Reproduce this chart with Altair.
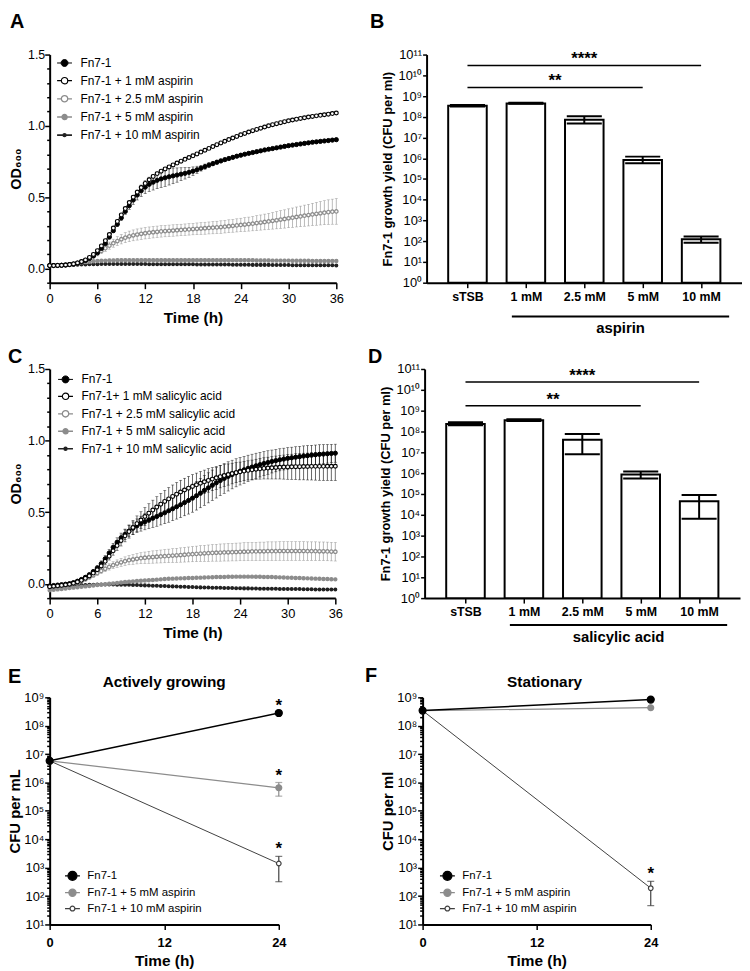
import altair as alt
import pandas as pd

FONT = "Liberation Sans"
SUP = str.maketrans("0123456789", "⁰¹²³⁴⁵⁶⁷⁸⁹")

# ---------------------------------------------------------------- panels A / C
# OD600 readings every 30 min, 0-36 h
TIME_H = [i * 0.5 for i in range(73)]

A_NAMES = ["Fn7-1", "Fn7-1 + 1 mM aspirin", "Fn7-1 + 2.5 mM aspirin",
           "Fn7-1 + 5 mM aspirin", "Fn7-1 + 10 mM aspirin"]
A_FN = [0.020, 0.020, 0.021, 0.022, 0.024, 0.027, 0.031, 0.037, 0.045, 0.056,
        0.070, 0.088, 0.110, 0.140, 0.175, 0.220, 0.265, 0.310, 0.355, 0.400,
        0.440, 0.480, 0.515, 0.545, 0.570, 0.590, 0.605, 0.618, 0.628, 0.636,
        0.643, 0.649, 0.655, 0.661, 0.667, 0.674, 0.682, 0.692, 0.703, 0.714,
        0.725, 0.735, 0.745, 0.754, 0.763, 0.771, 0.779, 0.787, 0.794, 0.801,
        0.807, 0.813, 0.819, 0.825, 0.831, 0.836, 0.841, 0.846, 0.851, 0.856,
        0.861, 0.865, 0.869, 0.873, 0.877, 0.881, 0.885, 0.888, 0.891, 0.894,
        0.897, 0.900, 0.903]
A_FN_SD = [0.003, 0.003, 0.003, 0.003, 0.003, 0.003, 0.003, 0.003, 0.003, 0.003,
           0.004, 0.005, 0.006, 0.008, 0.010, 0.012, 0.014, 0.016, 0.018, 0.020,
           0.025, 0.030, 0.035, 0.040, 0.045, 0.050, 0.055, 0.058, 0.060, 0.060,
           0.058, 0.055, 0.050, 0.045, 0.040, 0.035, 0.030, 0.025, 0.020, 0.018,
           0.016, 0.015, 0.014, 0.013, 0.012, 0.012, 0.012, 0.011, 0.011, 0.010,
           0.010, 0.010, 0.010, 0.010, 0.010, 0.010, 0.010, 0.010, 0.010, 0.010,
           0.010, 0.010, 0.010, 0.010, 0.010, 0.010, 0.010, 0.010, 0.010, 0.010,
           0.010, 0.010, 0.010]
A_1 = [0.020, 0.020, 0.021, 0.022, 0.024, 0.027, 0.032, 0.039, 0.048, 0.060,
       0.077, 0.098, 0.125, 0.158, 0.195, 0.238, 0.283, 0.330, 0.375, 0.420,
       0.462, 0.500, 0.535, 0.567, 0.596, 0.622, 0.645, 0.665, 0.682, 0.698,
       0.712, 0.726, 0.739, 0.752, 0.765, 0.778, 0.790, 0.803, 0.816, 0.829,
       0.842, 0.855, 0.868, 0.880, 0.892, 0.904, 0.915, 0.926, 0.937, 0.947,
       0.957, 0.966, 0.975, 0.984, 0.992, 1.000, 1.008, 1.015, 1.022, 1.029,
       1.035, 1.041, 1.047, 1.052, 1.057, 1.062, 1.066, 1.070, 1.074, 1.078,
       1.082, 1.086, 1.090]
A_25 = [0.020, 0.020, 0.021, 0.022, 0.024, 0.027, 0.031, 0.037, 0.045, 0.056,
        0.070, 0.086, 0.104, 0.123, 0.142, 0.160, 0.177, 0.192, 0.205, 0.216,
        0.225, 0.232, 0.238, 0.243, 0.247, 0.251, 0.254, 0.257, 0.260, 0.262,
        0.264, 0.266, 0.268, 0.270, 0.272, 0.274, 0.276, 0.278, 0.280, 0.282,
        0.284, 0.286, 0.288, 0.290, 0.293, 0.296, 0.299, 0.302, 0.305, 0.308,
        0.311, 0.314, 0.318, 0.322, 0.326, 0.330, 0.334, 0.338, 0.343, 0.347,
        0.352, 0.356, 0.361, 0.365, 0.370, 0.374, 0.379, 0.383, 0.387, 0.391,
        0.395, 0.398, 0.400]
A_25_SD = [0.004, 0.004, 0.004, 0.004, 0.005, 0.005, 0.005, 0.006, 0.007, 0.008,
           0.010, 0.013, 0.016, 0.019, 0.022, 0.025, 0.028, 0.031, 0.033, 0.035,
           0.037, 0.038, 0.039, 0.040, 0.040, 0.040, 0.040, 0.040, 0.040, 0.040,
           0.040, 0.040, 0.040, 0.040, 0.040, 0.040, 0.040, 0.041, 0.041, 0.042,
           0.042, 0.043, 0.043, 0.044, 0.044, 0.045, 0.045, 0.046, 0.047, 0.048,
           0.049, 0.050, 0.052, 0.053, 0.055, 0.056, 0.058, 0.060, 0.062, 0.064,
           0.066, 0.068, 0.070, 0.072, 0.074, 0.076, 0.078, 0.080, 0.082, 0.084,
           0.086, 0.088, 0.090]
A_5 = [0.020, 0.021, 0.022, 0.024, 0.026, 0.029, 0.032, 0.036, 0.040, 0.044,
       0.047, 0.050, 0.052, 0.054, 0.055, 0.056, 0.056, 0.057, 0.057, 0.057,
       0.057, 0.057, 0.058, 0.058, 0.058, 0.058, 0.058, 0.058, 0.058, 0.058,
       0.058, 0.058, 0.058, 0.058, 0.058, 0.058, 0.058, 0.058, 0.058, 0.058,
       0.058, 0.058, 0.058, 0.058, 0.058, 0.058, 0.058, 0.057, 0.057, 0.057,
       0.057, 0.057, 0.056, 0.056, 0.056, 0.056, 0.055, 0.055, 0.055, 0.055,
       0.055, 0.054, 0.054, 0.054, 0.054, 0.054, 0.053, 0.053, 0.053, 0.053,
       0.053, 0.053, 0.053]
A_5_SD = [0.003, 0.003, 0.003, 0.004, 0.004, 0.005, 0.005, 0.006, 0.006, 0.007,
          0.007, 0.008, 0.008, 0.009, 0.009, 0.010, 0.010, 0.010, 0.010, 0.010,
          0.010, 0.010, 0.010, 0.010, 0.010, 0.010, 0.010, 0.010, 0.010, 0.010,
          0.010, 0.010, 0.010, 0.010, 0.010, 0.010, 0.010, 0.010, 0.010, 0.010,
          0.010, 0.010, 0.010, 0.010, 0.010, 0.010, 0.010, 0.010, 0.010, 0.010,
          0.010, 0.010, 0.010, 0.010, 0.010, 0.010, 0.010, 0.010, 0.010, 0.010,
          0.010, 0.010, 0.010, 0.010, 0.010, 0.010, 0.010, 0.010, 0.010, 0.010,
          0.010, 0.010, 0.010]
A_10 = [0.020, 0.020, 0.021, 0.022, 0.023, 0.024, 0.025, 0.026, 0.027, 0.028,
        0.029, 0.030, 0.030, 0.031, 0.031, 0.031, 0.031, 0.031, 0.031, 0.031,
        0.031, 0.031, 0.031, 0.031, 0.031, 0.030, 0.030, 0.030, 0.030, 0.030,
        0.030, 0.030, 0.029, 0.029, 0.029, 0.029, 0.029, 0.028, 0.028, 0.028,
        0.028, 0.028, 0.027, 0.027, 0.027, 0.027, 0.026, 0.026, 0.026, 0.026,
        0.026, 0.025, 0.025, 0.025, 0.025, 0.025, 0.024, 0.024, 0.024, 0.024,
        0.024, 0.023, 0.023, 0.023, 0.023, 0.023, 0.022, 0.022, 0.022, 0.022,
        0.022, 0.022, 0.021]

C_NAMES = ["Fn7-1", "Fn7-1+ 1 mM salicylic acid", "Fn7-1 + 2.5 mM salicylic acid",
           "Fn7-1 + 5 mM salicylic acid", "Fn7-1 + 10 mM salicylic acid"]
C_FN = [-0.015, -0.012, -0.009, -0.006, -0.003, 0.001, 0.008, 0.018, 0.030, 0.045,
        0.063, 0.085, 0.110, 0.140, 0.175, 0.215, 0.255, 0.290, 0.320, 0.345,
        0.368, 0.388, 0.405, 0.420, 0.433, 0.446, 0.458, 0.470, 0.483, 0.496,
        0.510, 0.524, 0.538, 0.552, 0.567, 0.582, 0.598, 0.615, 0.633, 0.652,
        0.670, 0.688, 0.705, 0.721, 0.736, 0.750, 0.763, 0.775, 0.786, 0.796,
        0.806, 0.815, 0.824, 0.832, 0.840, 0.847, 0.854, 0.860, 0.866, 0.871,
        0.876, 0.880, 0.884, 0.888, 0.892, 0.895, 0.898, 0.901, 0.904, 0.906,
        0.908, 0.910, 0.912]
C_FN_SD = [0.008, 0.008, 0.008, 0.008, 0.008, 0.008, 0.009, 0.010, 0.011, 0.012,
           0.014, 0.016, 0.018, 0.020, 0.022, 0.025, 0.028, 0.031, 0.034, 0.037,
           0.040, 0.044, 0.048, 0.052, 0.056, 0.060, 0.064, 0.068, 0.072, 0.076,
           0.080, 0.083, 0.086, 0.089, 0.092, 0.095, 0.098, 0.100, 0.102, 0.104,
           0.105, 0.106, 0.106, 0.105, 0.104, 0.102, 0.100, 0.098, 0.096, 0.094,
           0.092, 0.090, 0.088, 0.086, 0.084, 0.082, 0.080, 0.078, 0.077, 0.076,
           0.075, 0.074, 0.073, 0.072, 0.071, 0.070, 0.069, 0.068, 0.067, 0.066,
           0.065, 0.064, 0.063]
C_1 = [-0.020, -0.017, -0.014, -0.011, -0.007, -0.003, 0.004, 0.013, 0.024, 0.038,
       0.055, 0.075, 0.098, 0.125, 0.157, 0.193, 0.230, 0.267, 0.302, 0.335,
       0.365, 0.393, 0.420, 0.445, 0.470, 0.493, 0.515, 0.536, 0.556, 0.575,
       0.593, 0.610, 0.626, 0.641, 0.655, 0.668, 0.680, 0.691, 0.702, 0.712,
       0.722, 0.731, 0.740, 0.748, 0.756, 0.763, 0.770, 0.776, 0.782, 0.787,
       0.792, 0.796, 0.800, 0.803, 0.806, 0.808, 0.810, 0.812, 0.814, 0.815,
       0.816, 0.817, 0.818, 0.818, 0.819, 0.819, 0.820, 0.820, 0.820, 0.820,
       0.821, 0.821, 0.821]
C_1_SD = [0.008, 0.008, 0.008, 0.008, 0.008, 0.008, 0.009, 0.010, 0.011, 0.012,
          0.014, 0.016, 0.018, 0.021, 0.024, 0.027, 0.030, 0.034, 0.038, 0.042,
          0.046, 0.050, 0.054, 0.058, 0.062, 0.066, 0.069, 0.072, 0.075, 0.077,
          0.079, 0.080, 0.081, 0.082, 0.082, 0.082, 0.082, 0.082, 0.082, 0.082,
          0.082, 0.081, 0.080, 0.078, 0.076, 0.074, 0.072, 0.070, 0.068, 0.067,
          0.067, 0.068, 0.070, 0.072, 0.074, 0.076, 0.078, 0.080, 0.082, 0.084,
          0.086, 0.088, 0.090, 0.092, 0.093, 0.094, 0.095, 0.096, 0.097, 0.098,
          0.099, 0.100, 0.100]
C_25 = [-0.020, -0.018, -0.016, -0.013, -0.010, -0.005, 0.001, 0.009, 0.019, 0.031,
        0.045, 0.060, 0.075, 0.090, 0.105, 0.118, 0.130, 0.141, 0.150, 0.158,
        0.165, 0.170, 0.175, 0.179, 0.182, 0.185, 0.187, 0.189, 0.191, 0.193,
        0.195, 0.197, 0.199, 0.201, 0.203, 0.205, 0.207, 0.209, 0.211, 0.213,
        0.214, 0.216, 0.217, 0.218, 0.219, 0.220, 0.221, 0.222, 0.223, 0.224,
        0.225, 0.226, 0.226, 0.227, 0.227, 0.228, 0.228, 0.228, 0.229, 0.229,
        0.229, 0.229, 0.229, 0.229, 0.229, 0.228, 0.228, 0.228, 0.227, 0.227,
        0.226, 0.225, 0.224]
C_25_SD = [0.005, 0.005, 0.005, 0.005, 0.005, 0.006, 0.007, 0.008, 0.009, 0.010,
           0.012, 0.014, 0.016, 0.018, 0.020, 0.022, 0.024, 0.026, 0.028, 0.030,
           0.032, 0.034, 0.036, 0.038, 0.040, 0.042, 0.043, 0.044, 0.045, 0.046,
           0.047, 0.048, 0.049, 0.050, 0.051, 0.052, 0.053, 0.054, 0.055, 0.056,
           0.057, 0.058, 0.059, 0.060, 0.060, 0.061, 0.061, 0.062, 0.062, 0.063,
           0.063, 0.063, 0.064, 0.064, 0.064, 0.065, 0.065, 0.065, 0.065, 0.065,
           0.065, 0.065, 0.065, 0.065, 0.065, 0.065, 0.065, 0.065, 0.065, 0.065,
           0.065, 0.065, 0.065]
C_5 = [-0.045, -0.042, -0.039, -0.036, -0.033, -0.030, -0.027, -0.024, -0.021, -0.018,
       -0.015, -0.012, -0.009, -0.006, -0.003, 0.000, 0.003, 0.006, 0.009, 0.012,
       0.015, 0.017, 0.019, 0.021, 0.023, 0.025, 0.027, 0.029, 0.031, 0.033,
       0.035, 0.036, 0.037, 0.038, 0.039, 0.040, 0.041, 0.042, 0.043, 0.044,
       0.045, 0.046, 0.047, 0.048, 0.048, 0.049, 0.049, 0.050, 0.050, 0.050,
       0.050, 0.050, 0.049, 0.049, 0.048, 0.048, 0.047, 0.046, 0.045, 0.044,
       0.043, 0.042, 0.041, 0.040, 0.039, 0.038, 0.037, 0.036, 0.035, 0.034,
       0.033, 0.032, 0.031]
C_10 = [-0.030, -0.027, -0.024, -0.021, -0.018, -0.015, -0.013, -0.011, -0.009, -0.008,
        -0.007, -0.006, -0.005, -0.005, -0.005, -0.005, -0.005, -0.006, -0.006, -0.007,
        -0.007, -0.008, -0.009, -0.010, -0.011, -0.012, -0.013, -0.014, -0.015, -0.016,
        -0.017, -0.018, -0.019, -0.020, -0.021, -0.022, -0.023, -0.024, -0.025, -0.026,
        -0.026, -0.027, -0.028, -0.028, -0.029, -0.030, -0.030, -0.031, -0.031, -0.032,
        -0.032, -0.033, -0.033, -0.034, -0.034, -0.035, -0.035, -0.035, -0.036, -0.036,
        -0.036, -0.037, -0.037, -0.037, -0.038, -0.038, -0.038, -0.039, -0.039, -0.039,
        -0.039, -0.040, -0.040]

# ---------------------------------------------------------------- panels B / D
BAR_CATS = ["sTSB", "1 mM", "2.5 mM", "5 mM", "10 mM"]
B_MEAN = [3.4e8, 4.4e8, 7.2e7, 8.3e5, 1.25e2]
B_LO = [3.1e8, 4.2e8, 4.8e7, 5.8e5, 8.5e1]
B_HI = [3.7e8, 4.7e8, 1.05e8, 1.2e6, 1.7e2]
B_SIG = [(0, 4, 3.0e10, "****"), (0, 3, 2.6e9, "**")]
D_MEAN = [2.3e8, 3.5e8, 4.0e7, 8.5e5, 4.5e4]
D_LO = [2.0e8, 3.2e8, 8.0e6, 5.5e5, 6.5e3]
D_HI = [2.8e8, 3.9e8, 7.5e7, 1.2e6, 9.0e4]
D_SIG = [(0, 4, 2.4e10, "****"), (0, 3, 1.7e9, "**")]
GROUP_SPAN = [0.76, 4.48]

# ---------------------------------------------------------------- panels E / F
KILL_NAMES = ["Fn7-1", "Fn7-1 + 5 mM aspirin", "Fn7-1 + 10 mM aspirin"]
KILL_T = [0, 24]
E_VALS = [[5.8e6, 2.8e8], [5.8e6, 6.5e5], [5.8e6, 1.4e3]]
E_ERR = {1: (3.3e5, 1.0e6), 2: (3.2e2, 2.5e3)}
E_STAR = [0, 1, 2]
F_VALS = [[3.4e8, 8.3e8], [3.4e8, 4.3e8], [3.4e8, 1.9e2]]
F_ERR = {2: (4.6e1, 3.3e2)}
F_STAR = [2]

GROWTH_FILL = ["#000000", "#ffffff", "#ffffff", "#8c8c8c", "#222222"]
GROWTH_STROKE = ["#000000", "#000000", "#8c8c8c", "#8c8c8c", "#222222"]
GROWTH_SIZE = [32, 30, 30, 18, 6]
GROWTH_SW = [1.0, 1.6, 1.0, 1.0, 1.0]
GROWTH_LEG_R = [3.5, 3.2, 3.2, 2.5, 1.4]      # legend glyph circle radius, px

KILL_FILL = ["#000000", "#8c8c8c", "#ffffff"]
KILL_STROKE = ["#000000", "#8c8c8c", "#404040"]
KILL_SIZE = [80, 50, 22]
KILL_LINEW = [2.0, 1.5, 1.0]
KILL_LEG_R = [4.5, 3.6, 2.4]

LEG_BOX = 15  # legend glyph box, px


def sup_expr(exps):
    parts = [f"datum.value == {10 ** k} ? '10{str(k).translate(SUP)}'" for k in exps]
    return " : ".join(parts) + " : ''"


def rev_scale(domain, rng):
    # same mapping, listed in reverse so that it is never merged into the legend
    return alt.Scale(domain=domain[::-1], range=rng[::-1])


def stub_paths(radii):
    # legend glyph "-o-": line across the whole box with a circle in the middle
    out = []
    for r_px in radii:
        r = r_px / (LEG_BOX / 2)
        out.append(f"M-1,0L{-r:.3f},0M{r:.3f},0L1,0M{r:.3f},0"
                   f"A{r:.3f},{r:.3f} 0 1,1 {-r:.3f},0A{r:.3f},{r:.3f} 0 1,1 {r:.3f},0Z")
    return out


def letter_layer(letter, dx, dy):
    return alt.Chart(pd.DataFrame({"l": [letter]})).mark_text(
        font=FONT, fontSize=20, fontWeight="bold", align="left", baseline="top", color="#000"
    ).encode(text="l:N", x=alt.value(dx), y=alt.value(dy))


def legend_layer(names, radii, leg):
    empty = pd.DataFrame({"s": pd.Series([], dtype=str)})
    return alt.Chart(empty).mark_point(opacity=1).encode(
        shape=alt.Shape("s:N", scale=alt.Scale(domain=names, range=stub_paths(radii)),
                        legend=leg))


def growth_panel(letter, names, series, sds, W, H, ldx, ldy, legx, legy, rowpad, xlp, xtp):
    draw = [4, 3, 2, 0, 1]
    pts = pd.DataFrame([{"s": names[k], "t": t, "v": v}
                        for k in draw for t, v in zip(TIME_H, series[k])])
    err = pd.DataFrame([{"s": names[k], "t": t, "lo": v - e, "hi": v + e}
                        for k in sds for t, v, e in zip(TIME_H, series[k], sds[k])])
    xs = alt.Scale(domain=[0, 36], nice=False, zero=False)
    ys = alt.Scale(domain=[-0.1, 1.5], nice=False, zero=False)
    major = "indexof([0, 0.5, 1, 1.5], datum.value) >= 0"
    xax = alt.Axis(values=[0, 6, 12, 18, 24, 30, 36], title="Time (h)", tickSize=6,
                   labelFontSize=13, labelPadding=xlp, titlePadding=xtp,
                   labelOverlap=False, labelFlush=False)
    yax = alt.Axis(values=[round(-0.1 + 0.1 * k, 1) for k in range(17)], title="OD₆₀₀",
                   labelExpr=f"{major} ? format(datum.value, '.1f') : ''",
                   tickSize={"condition": {"test": major, "value": 5}, "value": 3},
                   labelOverlap=False, labelFontSize=12.5, labelPadding=0,
                   titleFontSize=14.5, titleX=-26)
    X = alt.X("t:Q", scale=xs, axis=xax)

    def Y(f):
        return alt.Y(f, scale=ys, axis=yax)

    sc_col = rev_scale(names, GROWTH_STROKE)
    sc_stroke = alt.Scale(domain=names, range=GROWTH_STROKE)
    sc_fill = alt.Scale(domain=names, range=GROWTH_FILL)
    sc_size = rev_scale(names, GROWTH_SIZE)
    sc_sw = alt.Scale(domain=names, range=GROWTH_SW)
    leg = alt.Legend(title=None, orient="none", legendX=legx, legendY=legy,
                     labelFontSize=12, rowPadding=rowpad, padding=0, labelOffset=7.5,
                     symbolSize=LEG_BOX ** 2, labelLimit=300)

    err_rule = alt.Chart(err).mark_rule(strokeWidth=0.6).encode(
        x=X, y=Y("lo:Q"), y2="hi:Q", color=alt.Color("s:N", scale=sc_col, legend=None))
    cap_lo = alt.Chart(err).mark_tick(orient="horizontal", size=3, thickness=0.6).encode(
        x=X, y=Y("lo:Q"), color=alt.Color("s:N", scale=sc_col, legend=None))
    cap_hi = alt.Chart(err).mark_tick(orient="horizontal", size=3, thickness=0.6).encode(
        x=X, y=Y("hi:Q"), color=alt.Color("s:N", scale=sc_col, legend=None))
    lines = alt.Chart(pts).mark_line(strokeWidth=0.8).encode(
        x=X, y=Y("v:Q"), color=alt.Color("s:N", scale=sc_col, legend=None))
    points = alt.Chart(pts).mark_point(shape="circle", opacity=1).encode(
        x=X, y=Y("v:Q"),
        fill=alt.Fill("s:N", scale=sc_fill, legend=leg),
        stroke=alt.Stroke("s:N", scale=sc_stroke, legend=leg),
        size=alt.Size("s:N", scale=sc_size, legend=None),
        strokeWidth=alt.StrokeWidth("s:N", scale=sc_sw, legend=leg))
    return alt.layer(err_rule, cap_lo, cap_hi, lines, points,
                     legend_layer(names, GROWTH_LEG_R, leg),
                     letter_layer(letter, ldx, ldy)).properties(width=W, height=H)


def bar_panel(letter, means, lo, hi, sig, group, W, H, ldx, ldy, gline, gtext):
    df = pd.DataFrame({"i": list(range(5)), "mean": means, "lo": lo, "hi": hi})
    sdf = pd.DataFrame([{"a": a, "b": b, "m": (a + b) / 2, "y": y, "txt": s} for a, b, y, s in sig])
    gdf = pd.DataFrame({"a": [GROUP_SPAN[0]], "b": [GROUP_SPAN[1]],
                        "m": [(GROUP_SPAN[0] + GROUP_SPAN[1]) / 2], "g": [group]})
    xs = alt.Scale(domain=[-0.7, 4.7], nice=False, zero=False)
    ys = alt.Scale(type="log", domain=[1, 1e11], nice=False)
    cat_expr = " : ".join(f"datum.value == {i} ? '{c}'" for i, c in enumerate(BAR_CATS)) + " : ''"
    xax = alt.Axis(values=[0, 1, 2, 3, 4], labelExpr=cat_expr, title=None, labelFontSize=12.5,
                   labelFontWeight="bold", tickSize=5, labelPadding=3,
                   labelOverlap=False, labelFlush=False)
    yax = alt.Axis(values=[10 ** k for k in range(12)], labelExpr=sup_expr(range(12)),
                   title="Fn7-1 growth yield (CFU per ml)", titleFontSize=13, tickSize=4,
                   labelPadding=1, titlePadding=4, labelFontSize=13, labelOverlap=False)

    def X(f):
        return alt.X(f, scale=xs, axis=xax)

    def Y(f):
        return alt.Y(f, scale=ys, axis=yax)

    bars = alt.Chart(df).transform_calculate(
        x1="datum.i - 0.33", x2="datum.i + 0.33", base="1"
    ).mark_rect(fill="white", stroke="black", strokeWidth=2).encode(
        x=X("x1:Q"), x2="x2:Q", y=Y("mean:Q"), y2="base:Q")
    ebar = alt.Chart(df).mark_rule(strokeWidth=2, color="black").encode(
        x=X("i:Q"), y=Y("lo:Q"), y2="hi:Q")
    caps = alt.Chart(df).transform_calculate(
        c1="datum.i - 0.3", c2="datum.i + 0.3"
    ).transform_fold(["lo", "hi"], as_=["k", "yv"]).mark_rule(strokeWidth=2, color="black").encode(
        x=X("c1:Q"), x2="c2:Q", y=Y("yv:Q"))
    sig_rule = alt.Chart(sdf).mark_rule(strokeWidth=1.5, color="black").encode(
        x=X("a:Q"), x2="b:Q", y=Y("y:Q"))
    sig_txt = alt.Chart(sdf).mark_text(font=FONT, fontSize=17, fontWeight="bold", dy=-6,
                                       color="black").encode(x=X("m:Q"), y=Y("y:Q"), text="txt:N")
    g_rule = alt.Chart(gdf).mark_rule(strokeWidth=2, color="black").encode(
        x=X("a:Q"), x2="b:Q", y=alt.value(H + gline))
    g_txt = alt.Chart(gdf).mark_text(font=FONT, fontSize=15, fontWeight="bold", baseline="middle",
                                     color="black").encode(x=X("m:Q"), y=alt.value(H + gtext), text="g:N")
    return alt.layer(bars, ebar, caps, sig_rule, sig_txt, g_rule, g_txt,
                     letter_layer(letter, ldx, ldy)).properties(width=W, height=H)


def kill_panel(letter, title, ytitle, vals, errs, stars, W, H, ldx, ldy, legx, legy, tdx):
    draw = [2, 1, 0]
    pts = pd.DataFrame([{"s": KILL_NAMES[k], "t": t, "v": v}
                        for k in draw for t, v in zip(KILL_T, vals[k])])
    err = pd.DataFrame([{"s": KILL_NAMES[k], "t": KILL_T[1], "lo": lh[0], "hi": lh[1]}
                        for k, lh in errs.items()])
    st = pd.DataFrame([{"t": KILL_T[1], "y": errs[k][1] if k in errs else vals[k][1], "txt": "*"}
                       for k in stars])
    xs = alt.Scale(domain=[0, 24], nice=False, zero=False)
    ys = alt.Scale(type="log", domain=[10, 1e9], nice=False)
    majors = [10 ** k for k in range(1, 10)]
    minors = [m * 10 ** k for k in range(1, 9) for m in range(2, 10)]
    major = "indexof([" + ", ".join(str(v) for v in majors) + "], datum.value) >= 0"
    xax = alt.Axis(values=[0, 12, 24], title="Time (h)", tickSize=5, labelFontSize=13,
                   labelFontWeight="bold", labelPadding=7, titlePadding=4,
                   labelOverlap=False, labelFlush=False)
    yax = alt.Axis(values=majors + minors, labelExpr=sup_expr(range(1, 10)), title=ytitle,
                   tickSize={"condition": {"test": major, "value": 5}, "value": 3},
                   labelOverlap=False, labelFontSize=13, labelPadding=1,
                   titleFontSize=15, titleX=-27)
    X = alt.X("t:Q", scale=xs, axis=xax)

    def Y(f):
        return alt.Y(f, scale=ys, axis=yax)

    sc_col = rev_scale(KILL_NAMES, KILL_STROKE)
    sc_stroke = alt.Scale(domain=KILL_NAMES, range=KILL_STROKE)
    sc_fill = alt.Scale(domain=KILL_NAMES, range=KILL_FILL)
    sc_size = rev_scale(KILL_NAMES, KILL_SIZE)
    sc_lw = rev_scale(KILL_NAMES, KILL_LINEW)
    leg = alt.Legend(title=None, orient="none", legendX=legx, legendY=legy, labelFontSize=11.5,
                     rowPadding=1, padding=0, labelOffset=6.5, symbolSize=LEG_BOX ** 2,
                     symbolStrokeWidth=1.3, labelLimit=300)
    lines = alt.Chart(pts).mark_line().encode(
        x=X, y=Y("v:Q"), color=alt.Color("s:N", scale=sc_col, legend=None),
        strokeWidth=alt.StrokeWidth("s:N", scale=sc_lw, legend=None))
    e_rule = alt.Chart(err).mark_rule(strokeWidth=1.2).encode(
        x=X, y=Y("lo:Q"), y2="hi:Q", color=alt.Color("s:N", scale=sc_col, legend=None))
    e_cap = alt.Chart(err).transform_fold(["lo", "hi"], as_=["k", "yv"]).mark_tick(
        orient="horizontal", size=7, thickness=1.2).encode(
        x=X, y=Y("yv:Q"), color=alt.Color("s:N", scale=sc_col, legend=None))
    points = alt.Chart(pts).mark_point(shape="circle", opacity=1, strokeWidth=1.2).encode(
        x=X, y=Y("v:Q"),
        fill=alt.Fill("s:N", scale=sc_fill, legend=leg),
        stroke=alt.Stroke("s:N", scale=sc_stroke, legend=leg),
        size=alt.Size("s:N", scale=sc_size, legend=None))
    stars_t = alt.Chart(st).mark_text(font=FONT, fontSize=17, fontWeight="bold", dy=-7,
                                      baseline="middle", color="black").encode(
        x=X, y=Y("y:Q"), text="txt:N")
    ttl = alt.Chart(pd.DataFrame({"ti": [title]})).mark_text(
        font=FONT, fontSize=15.5, fontWeight="bold", baseline="middle", color="black"
    ).encode(text="ti:N", x=alt.value(W / 2 + tdx), y=alt.value(-15))
    return alt.layer(lines, e_rule, e_cap, points, stars_t, ttl,
                     legend_layer(KILL_NAMES, KILL_LEG_R, leg),
                     letter_layer(letter, ldx, ldy)).properties(width=W, height=H)


IND = dict(color="independent", fill="independent", stroke="independent",
           size="independent", strokeWidth="independent", shape="independent")

A = growth_panel("A", A_NAMES, [A_FN, A_1, A_25, A_5, A_10],
                 {0: A_FN_SD, 2: A_25_SD, 3: A_5_SD}, 289, 230, -40, -43, 6.5, 0.5, 3.3, 4, 5)
B = bar_panel("B", B_MEAN, B_LO, B_HI, B_SIG, "aspirin", 318, 230, -57, -43, 34, 46)
C = growth_panel("C", C_NAMES, [C_FN, C_1, C_25, C_5, C_10],
                 {0: C_FN_SD, 1: C_1_SD, 2: C_25_SD}, 288, 231, -42, -22, 7.5, 2.5, 2.6, 4, 5)
D = bar_panel("D", D_MEAN, D_LO, D_HI, D_SIG, "salicylic acid", 318, 231, -57, -22, 27, 39)
E = kill_panel("E", "Actively growing", "CFU per mL", E_VALS, E_ERR, E_STAR,
               231, 229, -42, -30, 14.5, 171.5, 0)
F = kill_panel("F", "Stationary", "CFU per ml", F_VALS, F_ERR, F_STAR,
               230, 229, -58, -31, 16.5, 171.5, 8)

row1 = alt.hconcat(A, B, spacing=26).resolve_scale(**IND)
row2 = alt.hconcat(C, D, spacing=25).resolve_scale(**IND)
row3 = alt.hconcat(E, F, spacing=79).resolve_scale(**IND)
top = alt.vconcat(row1, row2, spacing=11).resolve_scale(**IND)

chart = alt.vconcat(top, row3, spacing=22).resolve_scale(**IND).properties(
    padding=0
).configure_view(
    stroke=None
).configure_axis(
    domainColor="#000", domainWidth=2, tickColor="#000", tickWidth=1.5,
    labelColor="#000", titleColor="#000", labelFont=FONT, titleFont=FONT,
    titleFontSize=15.5, titleFontWeight="bold", grid=False
).configure_legend(labelFont=FONT, labelColor="#000").configure_text(font=FONT)

chart.save("out.html", embed_options={"renderer": "svg", "actions": False})
